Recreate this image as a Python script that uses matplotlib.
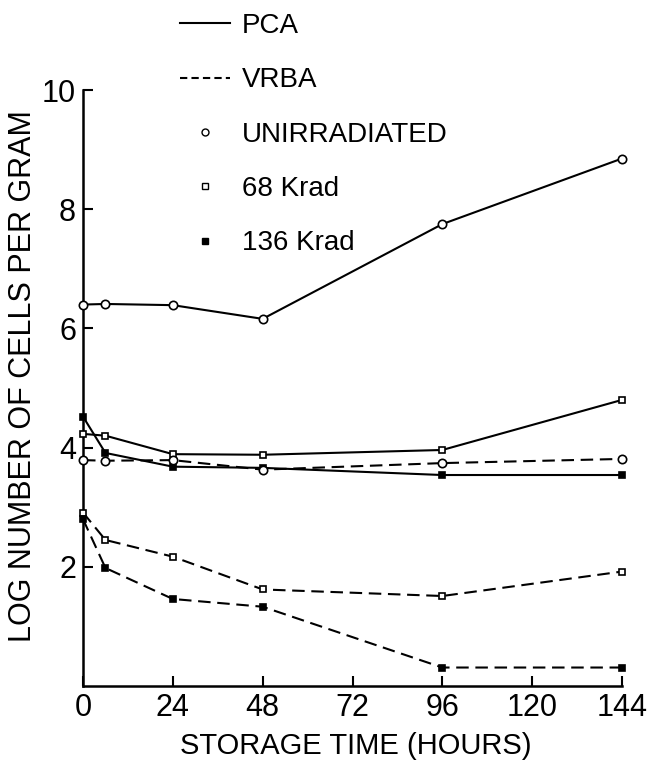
import numpy as np
import matplotlib
matplotlib.use("Agg")
import matplotlib.pyplot as plt
from matplotlib.lines import Line2D

# storage time (hours)
hours = [0, 6, 24, 48, 96, 144]

# log number of cells per gram, PCA (solid)
pca_unirr = [6.40, 6.41, 6.39, 6.16, 7.75, 8.85]
pca_68 = [4.23, 4.20, 3.89, 3.88, 3.96, 4.80]
pca_136 = [4.52, 3.91, 3.68, 3.66, 3.54, 3.54]

# VRBA (dashed)
vrba_unirr = [3.79, 3.78, 3.79, 3.63, 3.74, 3.81]
vrba_68 = [2.91, 2.45, 2.17, 1.62, 1.51, 1.92]
vrba_136 = [2.80, 1.98, 1.46, 1.33, 0.31, 0.31]

x_ticks = [0, 24, 48, 72, 96, 120, 144]
y_ticks = [2, 4, 6, 8, 10]

plt.rcParams['font.family'] = ['Liberation Sans', 'DejaVu Sans']
lw = 1.5
dash = (6, 3.2)

fig = plt.figure(figsize=(6.54, 7.66), dpi=100)
ax = fig.add_axes([83/654, 1 - 686/766, (622-83)/654, (686-90)/766])

def draw(y, ls, marker, fill, ms):
    line, = ax.plot(hours, y, color='k', lw=lw, marker=marker, ms=ms,
                    mfc=fill, mec='k', mew=1.2, clip_on=False, zorder=3)
    if ls == 'dash':
        line.set_dashes(dash)
    return line

draw(pca_unirr, 'solid', 'o', 'white', 6)
draw(pca_68, 'solid', 's', 'white', 5)
draw(pca_136, 'solid', 's', 'k', 5)
draw(vrba_unirr, 'dash', 'o', 'white', 6)
draw(vrba_68, 'dash', 's', 'white', 5)
draw(vrba_136, 'dash', 's', 'k', 5)

ax.set_xlim(0, 144)
ax.set_ylim(0, 10)
ax.set_xticks(x_ticks)
ax.set_yticks(y_ticks)
ax.tick_params(direction='in', length=7, width=1.5, labelsize=22, pad=5)
for s in ['top', 'right']:
    ax.spines[s].set_visible(False)
for s in ['left', 'bottom']:
    ax.spines[s].set_linewidth(1.8)

ax.set_xlabel('STORAGE TIME (HOURS)', fontsize=21)
ax.set_ylabel('LOG NUMBER OF CELLS PER GRAM', fontsize=22)
ax.xaxis.set_label_coords(0.506, -0.078)
ax.yaxis.set_label_coords(-0.083, 0.52)

# key
handles = [
    Line2D([], [], color='k', lw=lw),
    Line2D([], [], color='k', lw=lw, dashes=(3.5, 2)),
    Line2D([], [], ls='none', marker='o', ms=5, mfc='white', mec='k'),
    Line2D([], [], ls='none', marker='s', ms=4, mfc='white', mec='k'),
    Line2D([], [], ls='none', marker='s', ms=4, mfc='k', mec='k'),
]
labels = ['PCA', 'VRBA', 'UNIRRADIATED', '68 Krad', '136 Krad']
fig.legend(handles, labels, loc='upper left', bbox_to_anchor=(180/654, 1 - 13/766),
           frameon=False, fontsize=20, handlelength=1.8, handletextpad=0.43,
           labelspacing=1.02, borderpad=0, borderaxespad=0)

fig.savefig('out.png', dpi=100)
